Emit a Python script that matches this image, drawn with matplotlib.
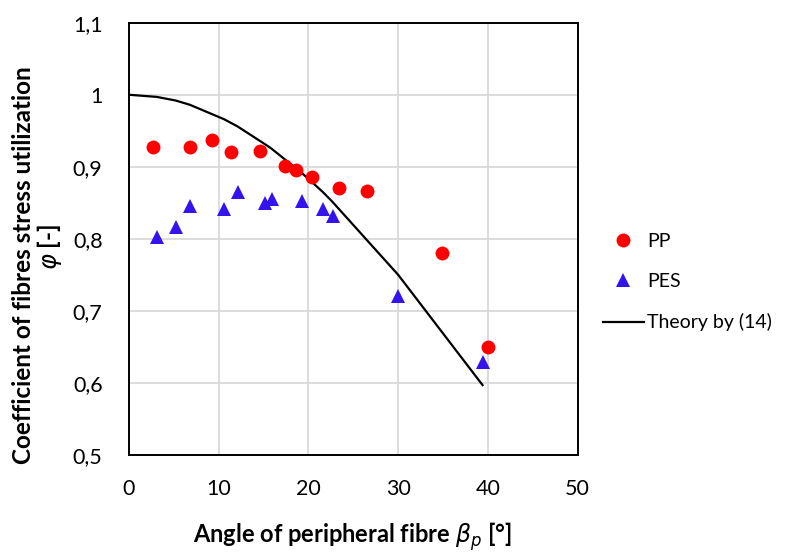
import matplotlib
matplotlib.use("Agg")
import matplotlib.pyplot as plt
from matplotlib.ticker import FixedLocator, FuncFormatter

plt.rcParams['font.family'] = ['Lato', 'DejaVu Sans']
plt.rcParams['mathtext.fontset'] = 'dejavusans'

# Data
pp_x = [2.7, 6.8, 9.2, 11.4, 14.6, 17.4, 18.6, 20.4, 23.4, 26.5, 34.9, 39.95]
pp_y = [0.927, 0.927, 0.937, 0.920, 0.922, 0.901, 0.896, 0.886, 0.871, 0.867, 0.780, 0.650]

pes_x = [3.1, 5.2, 6.8, 10.6, 12.1, 15.2, 15.9, 19.3, 21.6, 22.7, 30.0, 39.4]
pes_y = [0.802, 0.817, 0.846, 0.842, 0.865, 0.850, 0.856, 0.853, 0.842, 0.832, 0.721, 0.629]

theory_x = [0, 3.1, 5.2, 6.8, 10.6, 12.1, 15.2, 15.9, 19.3, 21.6, 22.7, 30.0, 39.4]
theory_y = [1.0, 0.997, 0.992, 0.986, 0.966, 0.956, 0.931, 0.925, 0.891, 0.865, 0.851, 0.750, 0.597]

x_ticks = [0, 10, 20, 30, 40, 50]
y_ticks = [0.5, 0.6, 0.7, 0.8, 0.9, 1.0, 1.1]

fig = plt.figure(figsize=(7.88, 5.55), dpi=100)
ax = fig.add_axes([129/788, 1-455/555, (577.7-129)/788, (455-22.7)/555])

ax.plot(pp_x, pp_y, linestyle='none', marker='o', markersize=10,
        color='#FF0000', markeredgewidth=0, label='PP', zorder=3)
ax.plot(pes_x, pes_y, linestyle='none', marker='^', markersize=9.5,
        color='#3414EC', markeredgewidth=0, label='PES', zorder=3)
ax.plot(theory_x, theory_y, color='black', linewidth=1.6,
        label='Theory by (14)', zorder=2)

ax.set_xlim(0, 50)
ax.set_ylim(0.5, 1.1)
ax.xaxis.set_major_locator(FixedLocator(x_ticks))
ax.yaxis.set_major_locator(FixedLocator(y_ticks))

def fmt(v, pos):
    s = ('%.1f' % v).rstrip('0').rstrip('.')
    return s.replace('.', ',')

ax.yaxis.set_major_formatter(FuncFormatter(fmt))
ax.xaxis.set_major_formatter(FuncFormatter(lambda v, p: '%d' % v))

ax.grid(True, color='#D9D9D9', linewidth=1.3)
ax.set_axisbelow(True)
for s in ax.spines.values():
    s.set_color('black')
    s.set_linewidth(1.4)
ax.tick_params(axis='y', length=0, labelsize=15.5, pad=19, colors='black')
ax.tick_params(axis='x', length=0, labelsize=15.5, pad=17, colors='black')

fig.text(352/788, 1-537/555, r'Angle of peripheral fibre $\beta_p$ [°]',
         ha='center', va='center', fontsize=17, fontweight='bold')
fig.text(24/788, 1-265/555, 'Coefficient of fibres stress utilization',
         ha='center', va='center', rotation=90, fontsize=17.5, fontweight='bold')
fig.text(49/788, 1-247/555, r'$\varphi$ [-]',
         ha='center', va='center', rotation=90, fontsize=17.5, fontweight='bold')

leg = ax.legend(loc='center left', bbox_to_anchor=(593/788, 1-282/555),
                bbox_transform=fig.transFigure, frameon=False, fontsize=14,
                handlelength=2.1, handletextpad=0.2, labelspacing=1.2,
                borderpad=0)

fig.savefig('out.png', dpi=100)
